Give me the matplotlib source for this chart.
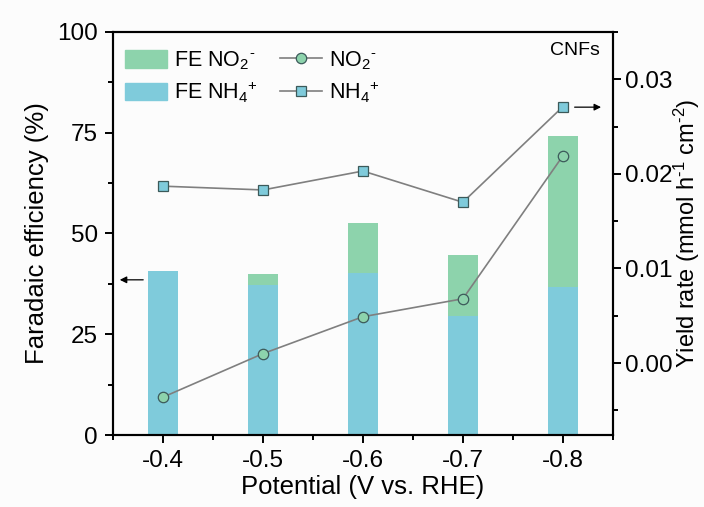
import matplotlib
matplotlib.use("Agg")
import matplotlib.pyplot as plt
from matplotlib.patches import Patch
from matplotlib.lines import Line2D
from matplotlib.ticker import MultipleLocator

plt.rcParams['font.family'] = ['Liberation Sans', 'DejaVu Sans']
plt.rcParams['mathtext.fontset'] = 'custom'
plt.rcParams['mathtext.rm'] = 'Liberation Sans'
plt.rcParams['mathtext.it'] = 'Liberation Sans:italic'

# Applied potential (V vs. RHE)
potential = [-0.4, -0.5, -0.6, -0.7, -0.8]
potential_labels = ['-0.4', '-0.5', '-0.6', '-0.7', '-0.8']
# Faradaic efficiencies (%)
fe_nh4 = [40.8, 37.2, 40.2, 29.6, 36.7]
fe_no2 = [0.0, 2.8, 12.4, 15.1, 37.5]
# Yield rates (mmol h-1 cm-2)
yield_no2 = [-0.0036, 0.0010, 0.0049, 0.0068, 0.0219]
yield_nh4 = [0.0187, 0.0183, 0.0203, 0.0170, 0.0271]

green = '#8DD3AC'
blue = '#7FCBDB'
edge = '#3C5A5A'
line_gray = '#7F7F7F'

fig = plt.figure(figsize=(7.04, 5.07), dpi=100, facecolor='#fcfcfc')
ax = fig.add_axes([0.1605, 0.142, 0.710, 0.795])
ax.set_facecolor('#fcfcfc')

ax.bar(potential, fe_nh4, width=0.03, color=blue, zorder=2)
ax.bar(potential, fe_no2, width=0.03, bottom=fe_nh4, color=green, zorder=2)

ax.set_xlim(-0.35, -0.85)
ax.set_ylim(0, 100)
ax.set_xticks(potential)
ax.set_xticklabels(potential_labels)
ax.xaxis.set_minor_locator(MultipleLocator(0.05))
ax.yaxis.set_major_locator(MultipleLocator(25))
ax.yaxis.set_minor_locator(MultipleLocator(12.5))
ax.set_xlabel('Potential (V vs. RHE)', fontsize=18.5, labelpad=2)
ax.set_ylabel('Faradaic efficiency (%)', fontsize=18.5, labelpad=6)

ax2 = ax.twinx()
ax2.plot(potential, yield_no2, color=line_gray, lw=1.2, marker='o', ms=7.5,
         mfc=green, mec=edge, mew=0.9, zorder=3)
ax2.plot(potential, yield_nh4, color=line_gray, lw=1.2, marker='s', ms=6.8,
         mfc=blue, mec=edge, mew=0.9, zorder=3)
ax2.set_ylim(-0.0076, 0.035)
ax2.yaxis.set_minor_locator(MultipleLocator(0.005))
ax2.set_yticks([0.0, 0.01, 0.02, 0.03])
ax2.set_yticklabels(['0.00', '0.01', '0.02', '0.03'])
ax2.set_ylabel('Yield rate (mmol h$^{\\text{-1}}$ cm$^{\\text{-2}}$)',
               fontsize=17, labelpad=-1)

for a in (ax, ax2):
    for s in a.spines.values():
        s.set_linewidth(1.5)
    a.tick_params(which='major', direction='out', length=6, width=1.4,
                  labelsize=17.5, pad=5)
    a.tick_params(which='minor', direction='out', length=3.5, width=1.4)
ax.tick_params(axis='y', which='both', right=False)
ax2.tick_params(axis='y', which='major', pad=3)

# arrows pointing to the matching axis
ax.annotate('', xy=(-0.354, 38.5), xytext=(-0.383, 38.5),
            arrowprops=dict(arrowstyle='-|>', color='black', lw=0.9,
                            mutation_scale=10))
ax2.annotate('', xy=(-0.841, 0.02705), xytext=(-0.809, 0.02705),
             arrowprops=dict(arrowstyle='-|>', color='black', lw=0.9,
                             mutation_scale=10))

ax.text(0.924, 0.955, 'CNFs', transform=ax.transAxes, ha='center',
        va='center', fontsize=14)

handles = [Patch(color=green), Patch(color=blue),
           Line2D([], [], color=line_gray, lw=1.2, marker='o', ms=7.5,
                  mfc=green, mec=edge, mew=0.9),
           Line2D([], [], color=line_gray, lw=1.2, marker='s', ms=6.8,
                  mfc=blue, mec=edge, mew=0.9)]
labels = ['FE NO$_\\mathregular{2}$$^\\text{-}$',
          'FE NH$_\\mathregular{4}$$^\\mathregular{+}$',
          'NO$_\\mathregular{2}$$^\\text{-}$',
          'NH$_\\mathregular{4}$$^\\mathregular{+}$']
ax2.legend(handles, labels, ncol=2, frameon=False, fontsize=15.5,
           loc='upper left', bbox_to_anchor=(-0.015, 1.005),
           handlelength=1.95, handleheight=0.9, columnspacing=1.0,
           handletextpad=0.35, labelspacing=0.35)

fig.savefig('out.png', dpi=100, facecolor=fig.get_facecolor())
